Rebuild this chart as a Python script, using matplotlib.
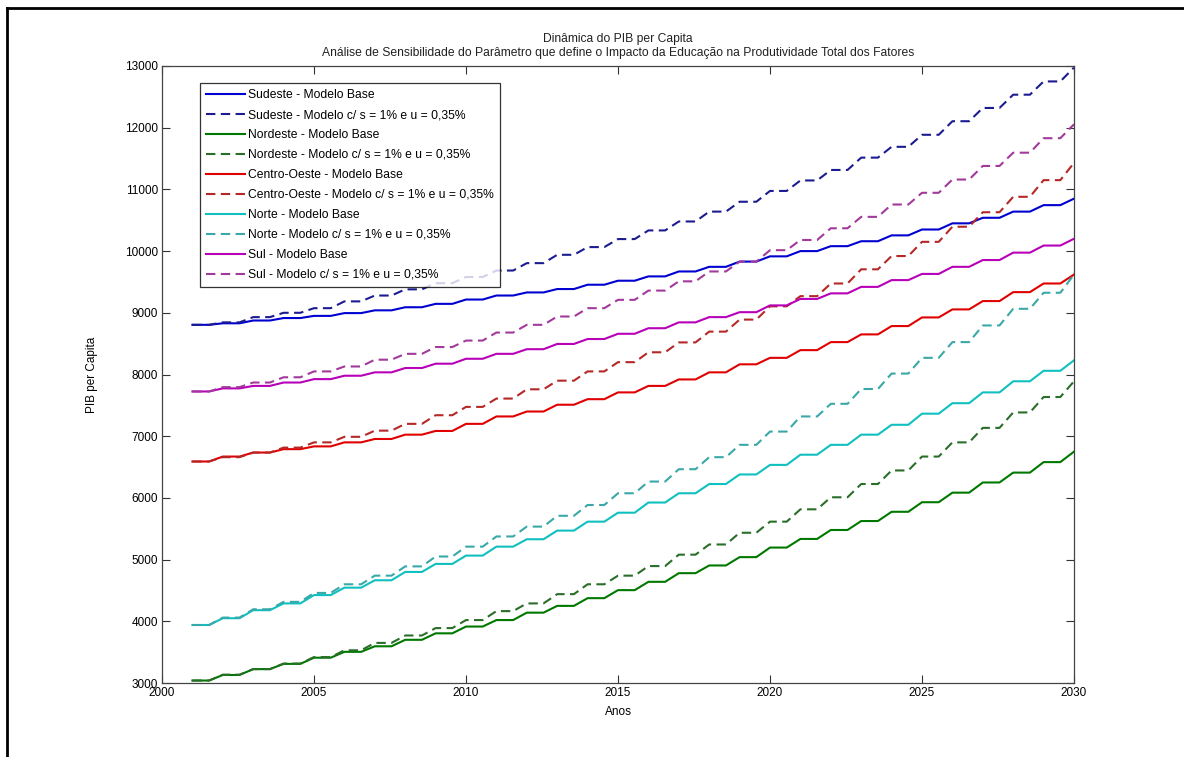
import numpy as np
import matplotlib
matplotlib.use('Agg')
import matplotlib.pyplot as plt
from matplotlib.lines import Line2D

# Anos da simulação
anos = list(range(2001, 2031))

# PIB per capita por região - modelo base e modelo com s = 1% e u = 0,35%
sudeste_base = [8805, 8830, 8875, 8915, 8950, 8995, 9040, 9090, 9145, 9215,
                9280, 9330, 9385, 9455, 9520, 9590, 9670, 9745, 9830, 9915,
                10000, 10080, 10160, 10255, 10350, 10450, 10540, 10640, 10745, 10850]
sudeste_mod = [8805, 8845, 8930, 9000, 9075, 9185, 9280, 9380, 9480, 9580,
               9685, 9805, 9940, 10065, 10195, 10335, 10480, 10640, 10800, 10975,
               11145, 11315, 11515, 11690, 11885, 12105, 12320, 12535, 12750, 12975]
nordeste_base = [3040, 3130, 3225, 3310, 3410, 3505, 3595, 3700, 3805, 3915,
                 4020, 4140, 4250, 4375, 4505, 4640, 4780, 4905, 5040, 5195,
                 5335, 5480, 5625, 5775, 5930, 6085, 6250, 6410, 6580, 6750]
nordeste_mod = [3040, 3135, 3225, 3315, 3420, 3530, 3650, 3770, 3890, 4020,
                4165, 4290, 4440, 4600, 4740, 4895, 5080, 5245, 5435, 5615,
                5815, 6010, 6225, 6445, 6670, 6900, 7135, 7385, 7635, 7890]
centro_base = [6590, 6670, 6735, 6790, 6835, 6900, 6955, 7025, 7085, 7200,
               7320, 7400, 7510, 7600, 7710, 7815, 7920, 8035, 8165, 8270,
               8395, 8525, 8650, 8785, 8925, 9055, 9190, 9335, 9475, 9620]
centro_mod = [6590, 6660, 6735, 6815, 6900, 6990, 7090, 7200, 7340, 7475,
              7610, 7760, 7900, 8050, 8200, 8360, 8520, 8695, 8890, 9105,
              9270, 9475, 9705, 9920, 10150, 10395, 10630, 10880, 11150, 11430]
norte_base = [3940, 4050, 4180, 4290, 4425, 4545, 4665, 4800, 4930, 5065,
              5210, 5330, 5470, 5615, 5760, 5925, 6075, 6225, 6380, 6535,
              6700, 6860, 7025, 7185, 7365, 7535, 7710, 7890, 8060, 8230]
norte_mod = [3940, 4060, 4195, 4315, 4460, 4600, 4740, 4890, 5050, 5210,
             5375, 5535, 5710, 5885, 6075, 6265, 6465, 6660, 6860, 7075,
             7320, 7525, 7765, 8015, 8270, 8525, 8795, 9065, 9325, 9620]
sul_base = [7725, 7775, 7815, 7870, 7925, 7980, 8035, 8105, 8175, 8255,
            8335, 8410, 8495, 8575, 8660, 8750, 8845, 8930, 9010, 9120,
            9225, 9315, 9420, 9530, 9630, 9745, 9855, 9975, 10090, 10200]
sul_mod = [7725, 7795, 7870, 7955, 8050, 8130, 8240, 8335, 8445, 8550,
           8680, 8805, 8940, 9075, 9210, 9360, 9510, 9670, 9830, 10015,
           10180, 10370, 10555, 10755, 10945, 11160, 11380, 11595, 11830, 12055]

legenda = ['Sudeste - Modelo Base', 'Sudeste - Modelo c/ s = 1% e u = 0,35%',
           'Nordeste - Modelo Base', 'Nordeste - Modelo c/ s = 1% e u = 0,35%',
           'Centro-Oeste - Modelo Base', 'Centro-Oeste - Modelo c/ s = 1% e u = 0,35%',
           'Norte - Modelo Base', 'Norte - Modelo c/ s = 1% e u = 0,35%',
           'Sul - Modelo Base', 'Sul - Modelo c/ s = 1% e u = 0,35%']


def degraus(anos, valores, plano=0.55):
    '''Cada ano fica parado uma parte do período e depois sobe até o ano seguinte'''
    xs, ys = [], []
    for i in range(len(anos) - 1):
        xs += [anos[i], anos[i] + plano]
        ys += [valores[i], valores[i]]
    xs.append(anos[-1])
    ys.append(valores[-1])
    return xs, ys


plt.rcParams['font.family'] = ['Liberation Sans', 'DejaVu Sans']

fig = plt.figure(figsize=(11.84, 7.57), dpi=100)
ax = fig.add_axes([162 / 1184, 1 - 683 / 757, 912 / 1184, 617 / 757])

series = [
    (sudeste_base, '#0000d0', '-'), (sudeste_mod, '#1c1c90', '--'),
    (nordeste_base, '#007800', '-'), (nordeste_mod, '#2a6e2a', '--'),
    (centro_base, '#e00000', '-'), (centro_mod, '#b52828', '--'),
    (norte_base, '#10c0c0', '-'), (norte_mod, '#3aa8a8', '--'),
    (sul_base, '#b800b8', '-'), (sul_mod, '#a23a9c', '--'),
]

for (vals, cor, estilo), nome in zip(series, legenda):
    xs, ys = degraus(anos, vals)
    if estilo == '--':
        ax.plot(xs, ys, color=cor, lw=1.5, ls=(0, (4.5, 2.6)), label=nome)
    else:
        ax.plot(xs, ys, color=cor, lw=1.5, label=nome)

ax.set_xlim(2000, 2030)
ax.set_ylim(3000, 13000)
ax.set_xticks(range(2000, 2031, 5))
ax.set_yticks(range(3000, 13001, 1000))
ax.tick_params(direction='in', length=6, top=True, right=True, labelsize=8.5,
               color='#333333', width=0.8, pad=3)
for s in ax.spines.values():
    s.set_color('#444444')
    s.set_linewidth(0.9)

ax.set_title('Dinâmica do PIB per Capita\nAnálise de Sensibilidade do Parâmetro que define o Impacto da Educação na Produtividade Total dos Fatores',
             fontsize=8.7, linespacing=1.25, pad=7, color='#222222')
ax.set_xlabel('Anos', fontsize=8.5, labelpad=5)
ax.set_ylabel('PIB per Capita', fontsize=8.5, labelpad=19)

leg = ax.legend(loc='upper left', bbox_to_anchor=(38 / 912, 1 - 17 / 617),
                borderaxespad=0, fontsize=8.7, frameon=True, fancybox=False,
                handlelength=3.2, handletextpad=0.3, labelspacing=0.66,
                borderpad=0.5)
leg.get_frame().set_edgecolor('black')
leg.get_frame().set_linewidth(0.9)

# moldura preta da captura de tela (topo e esquerda)
fig.add_artist(Line2D([7 / 1184, 7 / 1184], [0, 1 - 8 / 757], transform=fig.transFigure, color='black', lw=2))
fig.add_artist(Line2D([7 / 1184, 1], [1 - 8 / 757, 1 - 8 / 757], transform=fig.transFigure, color='black', lw=2))

fig.savefig('out.png', dpi=100)
